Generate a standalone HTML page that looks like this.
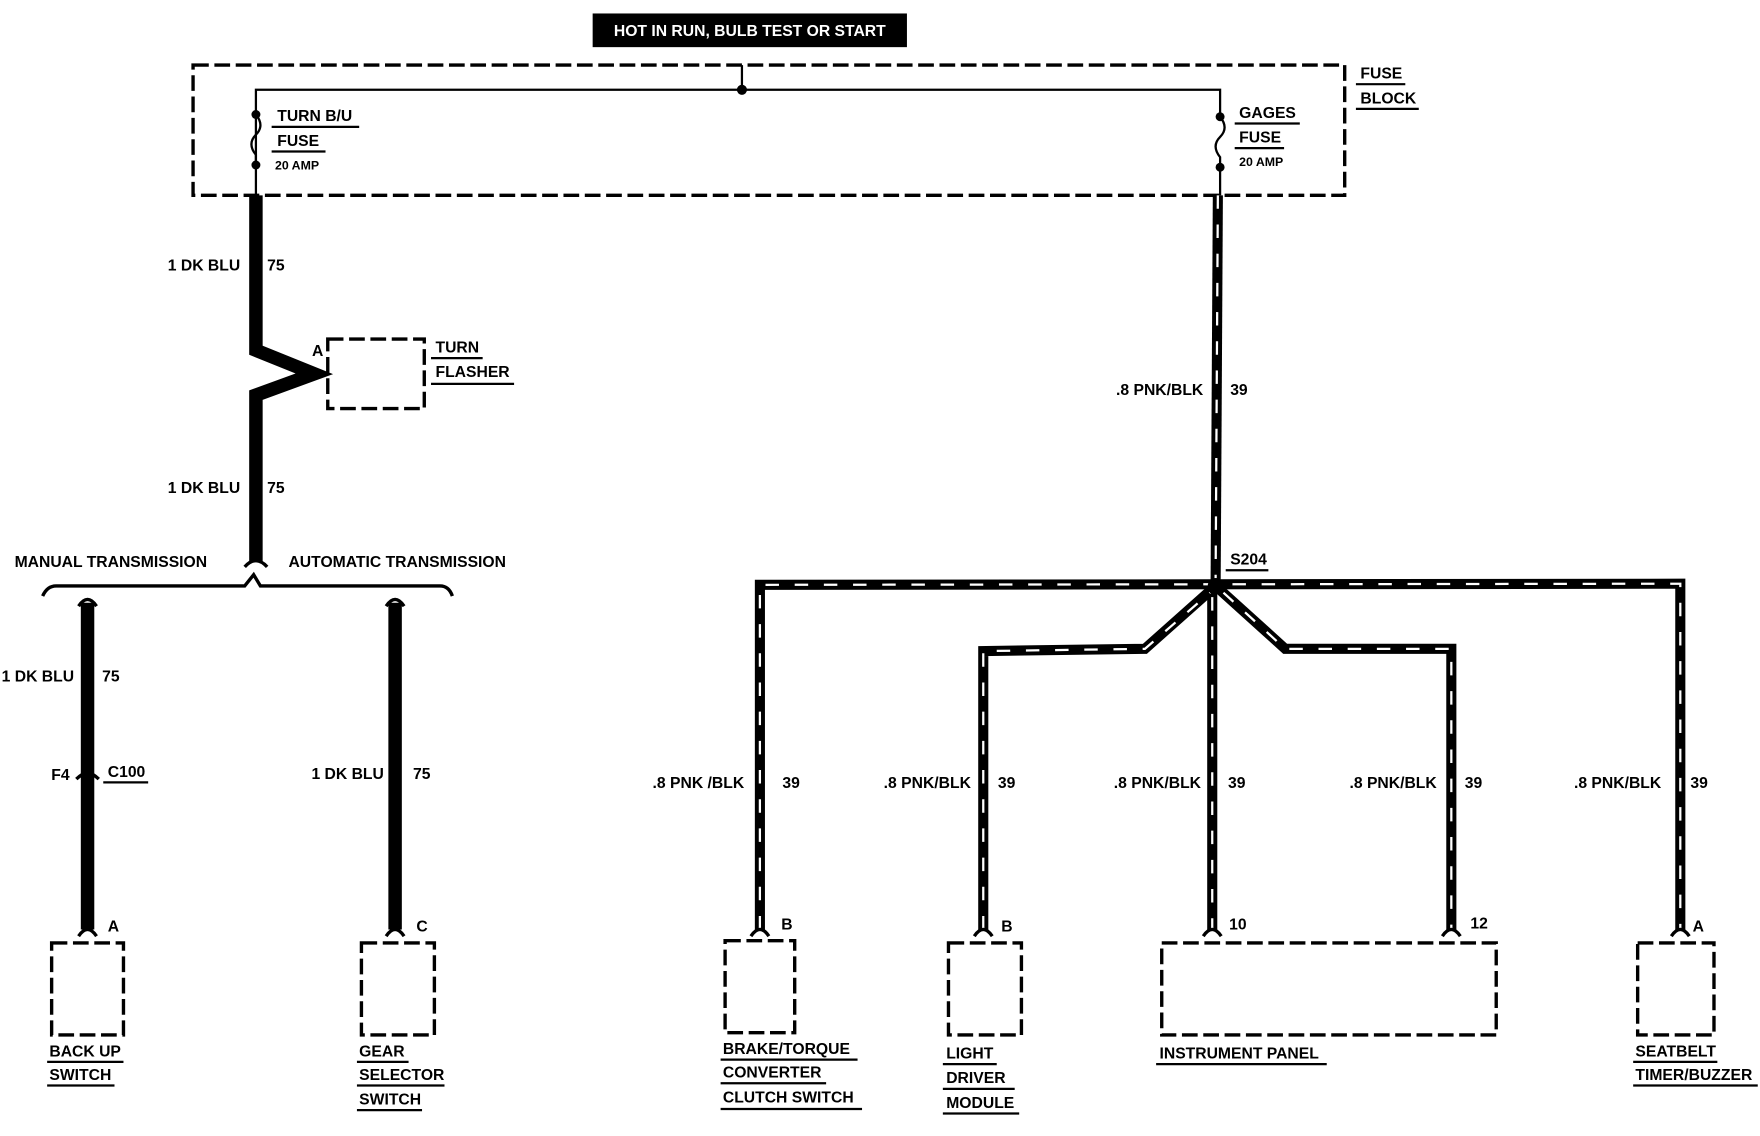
<!DOCTYPE html>
<html><head><meta charset="utf-8"><style>
html,body{margin:0;padding:0;background:#fff;}
svg{display:block}
text{font-family:"Liberation Sans Narrow","Liberation Sans",sans-serif;font-weight:bold;font-size:14px;fill:#000}
.s{font-size:11px}
.dash{fill:none;stroke:#000;stroke-width:3;stroke-dasharray:14 5}
.w{fill:none;stroke:#000;stroke-width:12;stroke-linejoin:miter}
.pb{fill:none;stroke:#000;stroke-width:9;stroke-linejoin:miter}
.pw{fill:none;stroke:#fff;stroke-width:2;stroke-dasharray:12 14}
.u{stroke:#000;stroke-width:2}
.t{fill:none;stroke:#000;stroke-width:3}
</style></head><body>
<svg width="1760" height="1136" viewBox="0 0 1568 1012" preserveAspectRatio="none" xmlns="http://www.w3.org/2000/svg">
<rect x="528" y="12" width="280" height="30" fill="#000"/>
<text x="668" y="32" text-anchor="middle" style="fill:#fff">HOT IN RUN, BULB TEST OR START</text>
<rect x="172" y="58" width="1026" height="116" class="dash"/>
<line x1="661" y1="58" x2="661" y2="80" stroke="#000" stroke-width="2"/>
<polyline points="228,147 228,80 1087,80 1087,104" fill="none" stroke="#000" stroke-width="2"/>
<circle cx="661" cy="80" r="4.5"/>
<circle cx="228" cy="102" r="4"/><circle cx="228" cy="147" r="4"/>
<path d="M228 102 Q236 112 228 120 Q220 128 228 138 L228 147" fill="none" stroke="#000" stroke-width="2"/>
<line x1="228" y1="147" x2="228" y2="174" stroke="#000" stroke-width="2"/>
<circle cx="1087" cy="104" r="4"/><circle cx="1087" cy="149" r="4"/>
<path d="M1087 104 Q1095 114 1087 122 Q1079 130 1087 140 L1087 149" fill="none" stroke="#000" stroke-width="2"/>
<line x1="1087" y1="149" x2="1087" y2="174" stroke="#000" stroke-width="2"/>
<text x="247" y="108">TURN B/U</text><line x1="242" y1="113" x2="320" y2="113" class="u"/>
<text x="247" y="130">FUSE</text><line x1="242" y1="135" x2="290" y2="135" class="u"/>
<text x="245" y="151" class="s">20 AMP</text>
<text x="1104" y="105">GAGES</text><line x1="1100" y1="110" x2="1158" y2="110" class="u"/>
<text x="1104" y="127">FUSE</text><line x1="1100" y1="132" x2="1144" y2="132" class="u"/>
<text x="1104" y="148" class="s">20 AMP</text>
<text x="1212" y="70">FUSE</text><line x1="1208" y1="75" x2="1252" y2="75" class="u"/>
<text x="1212" y="92">BLOCK</text><line x1="1208" y1="97" x2="1264" y2="97" class="u"/>

<!-- left wire -->
<polyline points="228,174 228,312 280,333 228,352 228,500" class="w"/>
<path d="M218 505 Q228 494 238 505" class="t"/>
<text x="214" y="241" text-anchor="end">1 DK BLU</text><text x="238" y="241">75</text>
<text x="214" y="439" text-anchor="end">1 DK BLU</text><text x="238" y="439">75</text>
<rect x="292" y="302" width="86" height="62" class="dash"/>
<text x="278" y="317">A</text>
<text x="388" y="314">TURN</text><line x1="384" y1="319" x2="430" y2="319" class="u"/>
<text x="388" y="336">FLASHER</text><line x1="384" y1="342" x2="458" y2="342" class="u"/>
<text x="13" y="505">MANUAL TRANSMISSION</text>
<text x="257" y="505">AUTOMATIC TRANSMISSION</text>
<path d="M38 531 Q42 522 50 522 L218 522 L226 512 L232 522 L392 522 Q400 522 403 531" fill="none" stroke="#000" stroke-width="3"/>

<line x1="78" y1="537" x2="78" y2="828" class="w" stroke-width="11"/>
<path d="M70 540 Q78 528 86 540" class="t"/>
<line x1="352" y1="537" x2="352" y2="828" class="w" stroke-width="11"/>
<path d="M344 540 Q352 528 360 540" class="t"/>
<text x="66" y="607" text-anchor="end">1 DK BLU</text><text x="91" y="607">75</text>
<text x="62" y="695" text-anchor="end">F4</text>
<path d="M68 694 Q78 684 88 694" class="t"/>
<text x="96" y="692">C100</text><line x1="92" y1="697" x2="132" y2="697" class="u"/>
<text x="342" y="694" text-anchor="end">1 DK BLU</text><text x="368" y="694">75</text>
<path d="M70 834 Q78 822 86 834" class="t"/><text x="96" y="830">A</text>
<path d="M344 834 Q352 822 360 834" class="t"/><text x="371" y="830">C</text>
<rect x="46" y="840" width="64" height="82" class="dash"/>
<text x="44" y="941">BACK UP</text><line x1="42" y1="946" x2="110" y2="946" class="u"/>
<text x="44" y="962">SWITCH</text><line x1="42" y1="967" x2="102" y2="967" class="u"/>
<rect x="322" y="840" width="65" height="82" class="dash"/>
<text x="320" y="941">GEAR</text><line x1="318" y1="946" x2="364" y2="946" class="u"/>
<text x="320" y="962">SELECTOR</text><line x1="318" y1="967" x2="396" y2="967" class="u"/>
<text x="320" y="984">SWITCH</text><line x1="318" y1="989" x2="376" y2="989" class="u"/>

<!-- pink wires -->
<g>
<path id="p1" d="M1087 174 L1087 520"/>
</g>
<g class="pb">
<path d="M1085 174 L1083 522"/>
<path d="M677 828 L677 521 L1497 520 L1497 828"/>
<path d="M876 828 L876 580 L1020 578 L1083 522 L1145 578 L1293 578 L1293 828"/>
<path d="M1080 522 L1080 828"/>
</g>
<g class="pw">
<path d="M1085 174 L1083 515"/>
<path d="M677 828 L677 521 L1497 520 L1497 828"/>
<path d="M876 828 L876 580 L1020 578 L1078 528"/>
<path d="M1090 528 L1145 578 L1293 578 L1293 828"/>
<path d="M1080 532 L1080 828"/>
</g>
<circle cx="1083" cy="522" r="7"/>
<text x="1096" y="503">S204</text><line x1="1092" y1="508" x2="1130" y2="508" class="u"/>
<text x="1072" y="352" text-anchor="end">.8 PNK/BLK</text><text x="1096" y="352">39</text>
<text x="663" y="702" text-anchor="end">.8 PNK /BLK</text><text x="697" y="702">39</text>
<text x="865" y="702" text-anchor="end">.8 PNK/BLK</text><text x="889" y="702">39</text>
<text x="1070" y="702" text-anchor="end">.8 PNK/BLK</text><text x="1094" y="702">39</text>
<text x="1280" y="702" text-anchor="end">.8 PNK/BLK</text><text x="1305" y="702">39</text>
<text x="1480" y="702" text-anchor="end">.8 PNK/BLK</text><text x="1506" y="702">39</text>

<path d="M669 834 Q677 822 685 834" class="t"/><text x="696" y="828">B</text>
<path d="M868 834 Q876 822 884 834" class="t"/><text x="892" y="830">B</text>
<path d="M1072 834 Q1080 822 1088 834" class="t"/><text x="1095" y="828">10</text>
<path d="M1285 834 Q1293 822 1301 834" class="t"/><text x="1310" y="827">12</text>
<path d="M1489 834 Q1497 822 1505 834" class="t"/><text x="1508" y="830">A</text>

<rect x="646" y="838" width="62" height="82" class="dash"/>
<rect x="845" y="840" width="65" height="82" class="dash"/>
<rect x="1035" y="840" width="298" height="82" class="dash"/>
<rect x="1459" y="840" width="68" height="82" class="dash"/>
<text x="644" y="939">BRAKE/TORQUE</text><line x1="642" y1="944" x2="764" y2="944" class="u"/>
<text x="644" y="960">CONVERTER</text><line x1="642" y1="965" x2="736" y2="965" class="u"/>
<text x="644" y="982">CLUTCH SWITCH</text><line x1="642" y1="988" x2="768" y2="988" class="u"/>
<text x="843" y="943">LIGHT</text><line x1="840" y1="948" x2="888" y2="948" class="u"/>
<text x="843" y="965">DRIVER</text><line x1="840" y1="970" x2="904" y2="970" class="u"/>
<text x="843" y="987">MODULE</text><line x1="840" y1="992" x2="908" y2="992" class="u"/>
<text x="1033" y="943">INSTRUMENT PANEL</text><line x1="1030" y1="948" x2="1182" y2="948" class="u"/>
<text x="1457" y="941">SEATBELT</text><line x1="1455" y1="946" x2="1530" y2="946" class="u"/>
<text x="1457" y="962">TIMER/BUZZER</text><line x1="1455" y1="967" x2="1566" y2="967" class="u"/>
</svg>
</body></html>
